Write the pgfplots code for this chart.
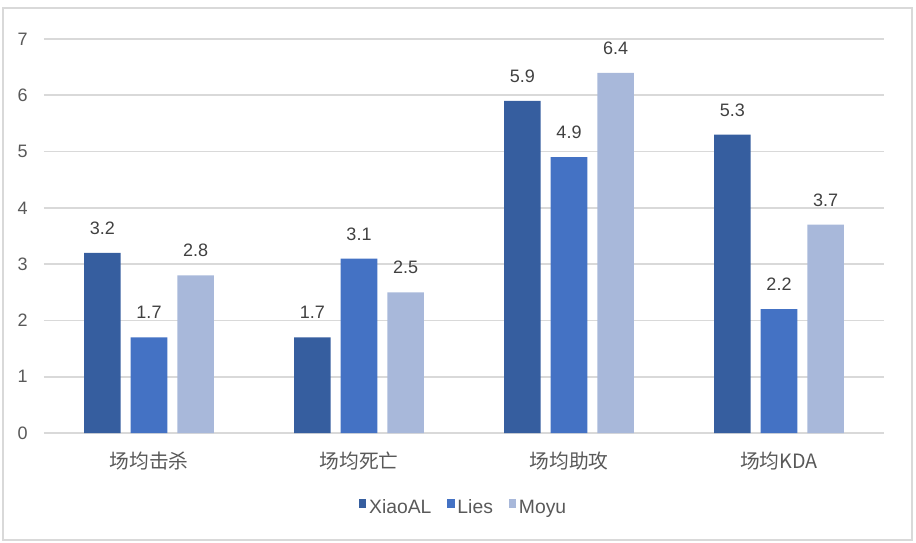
\documentclass[border=0pt]{standalone}
\usepackage{pgfplots}
\pgfplotsset{compat=1.18}
\usepackage{fontspec}
\setmainfont{Liberation Sans}
\newfontfamily\cjk{Noto Sans CJK SC}
\definecolor{xiaoal}{RGB}{54,94,159}
\definecolor{lies}{RGB}{68,114,196}
\definecolor{moyu}{RGB}{168,184,218}
\definecolor{gridgray}{RGB}{217,217,217}
\definecolor{ticktext}{RGB}{89,89,89}
\definecolor{valtext}{RGB}{64,64,64}

\begin{document}
\begin{tikzpicture}
  \begin{axis}[
      scale only axis,
      width=630pt, height=295.5pt,
      xmin=-0.5, xmax=3.5, ymin=0, ymax=7,
      ybar=7.5pt, bar width=27.4pt,
      xtick={0,1,2,3},
      xticklabels={{\cjk 场均击杀},{\cjk 场均死亡},{\cjk 场均助攻},{\cjk 场均KDA}},
      ytick={0,1,...,7},
      /pgf/number format/assume math mode=true,
      axis line style={draw=none},
      major tick length=0pt,
      ymajorgrids, grid style={gridgray, line width=1.3pt},
      tick label style={font=\fontsize{13.5}{16}\selectfont, text=ticktext},
      yticklabel style={inner sep=0pt, xshift=-12pt},
      xticklabel style={inner sep=0pt, yshift=-14pt, font=\fontsize{14.8}{17}\selectfont},
      nodes near coords,
      every node near coord/.append style={font=\fontsize{13.5}{16}\selectfont,
        text=valtext, anchor=center, yshift=18.5pt},
      legend style={at={(0.5,-0.19)}, anchor=center, draw=none, fill=none,
        legend columns=3, font=\fontsize{14.5}{17}\selectfont, text=ticktext,
        /tikz/every even column/.append style={column sep=10pt}},
      legend image code/.code={\fill[#1] (0pt,0pt) rectangle (5.5pt,6.5pt);},
      clip=false,
    ]
    \addplot[fill=xiaoal, draw=none] coordinates {(0,3.2) (1,1.7) (2,5.9) (3,5.3)};
    \addplot[fill=lies, draw=none] coordinates {(0,1.7) (1,3.1) (2,4.9) (3,2.2)};
    \addplot[fill=moyu, draw=none] coordinates {(0,2.8) (1,2.5) (2,6.4) (3,3.7)};
    \legend{XiaoAL, Lies, Moyu}
    \draw[gridgray, line width=1.5pt]
      ([xshift=-30.75pt,yshift=-80.25pt]rel axis cs:0,0) rectangle
      ([xshift=21pt,yshift=23.25pt]rel axis cs:1,1);
  \end{axis}
  \path[use as bounding box]
    ([shift={(-33pt,-81.75pt)}]current axis.south west) rectangle
    ([shift={(24pt,29.25pt)}]current axis.north east);
\end{tikzpicture}
\end{document}
